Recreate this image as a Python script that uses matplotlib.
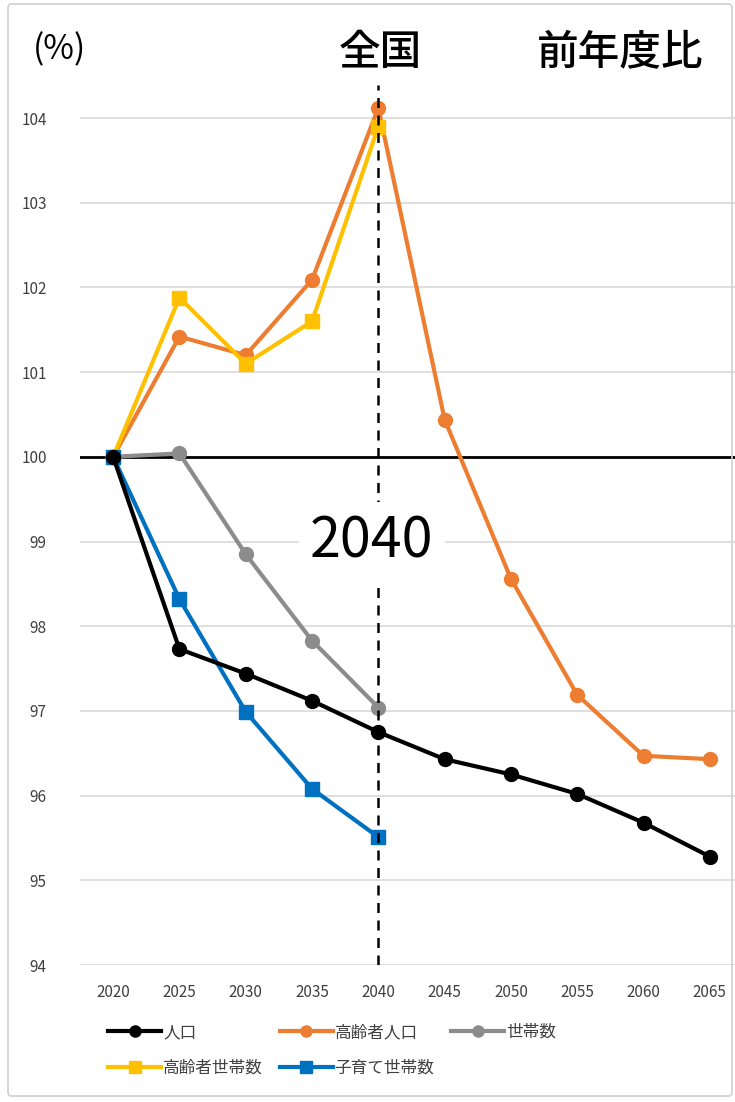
import numpy as np
import matplotlib.pyplot as plt
from matplotlib.patches import FancyBboxPatch

plt.rcParams['font.family'] = ['Noto Sans CJK JP', 'DejaVu Sans']

# -----------------------------
# Data
# -----------------------------
years = ['2020', '2025', '2030', '2035', '2040', '2045', '2050', '2055', '2060', '2065']
population = [100.0, 97.73, 97.44, 97.12, 96.75, 96.43, 96.25, 96.02, 95.68, 95.28]
elderly_pop = [100.0, 101.42, 101.2, 102.09, 104.12, 100.44, 98.56, 97.19, 96.47, 96.43]
households = [100.0, 100.04, 98.85, 97.83, 97.04]
elderly_hh = [100.0, 101.88, 101.1, 101.6, 103.9]
child_hh = [100.0, 98.32, 96.99, 96.08, 95.51]

yticks = [94, 95, 96, 97, 98, 99, 100, 101, 102, 103, 104]

# -----------------------------
# Figure
# -----------------------------
fig = plt.figure(figsize=(7.35, 11.02), dpi=100)
W, H = 735, 1102
ax = fig.add_axes([80 / W, 1 - 965 / H, (735 - 80) / W, (965 - 85) / H])

# outer frame
frame = FancyBboxPatch((8 / W, 6 / H), 724 / W, 1092 / H,
                       boxstyle="round,pad=0,rounding_size=0.004",
                       transform=fig.transFigure, fill=False,
                       edgecolor='#d0d0d0', linewidth=1.2)
fig.patches.append(frame)

x = np.arange(len(years))
lw = 3
ms = 10

l_pop, = ax.plot(x, population, color='black', lw=lw, marker='o', ms=ms, label='人口', zorder=5)
l_eld, = ax.plot(x, elderly_pop, color='#ED7D31', lw=lw, marker='o', ms=ms, label='高齢者人口', zorder=4)
l_hh, = ax.plot(x[:len(households)], households, color='#8C8C8C', lw=lw, marker='o', ms=ms, label='世帯数', zorder=4)
l_ehh, = ax.plot(x[:len(elderly_hh)], elderly_hh, color='#FFC000', lw=lw, marker='s', ms=ms, label='高齢者世帯数', zorder=4)
l_chh, = ax.plot(x[:len(child_hh)], child_hh, color='#0070C0', lw=lw, marker='s', ms=ms, label='子育て世帯数', zorder=4)

ax.set_xlim(-0.5, 9.38)
ax.set_ylim(94, 104.39)
ax.set_yticks(yticks)
ax.set_xticks(x)
ax.set_xticklabels(years)
ax.tick_params(axis='both', length=0, labelsize=11, colors='#404040')
ax.tick_params(axis='y', pad=24)
ax.tick_params(axis='x', pad=14)
ax.grid(axis='y', color='#d9d9d9', lw=1.2)
ax.set_axisbelow(True)
for s in ax.spines.values():
    s.set_visible(False)

# reference lines
ax.axhline(100, color='black', lw=2, zorder=3)
ax.axvline(4, color='black', lw=1.8, ls=(0, (4, 3)), zorder=6)

ax.text(3.9, 99.0, '2040', fontsize=40, ha='center', va='center', zorder=7,
        bbox=dict(facecolor='white', edgecolor='none', pad=8))

# titles
fig.text(60 / W, 1 - 50 / H, '(%)', fontsize=24, ha='center', va='center')
fig.text(380 / W, 1 - 52 / H, '全国', fontsize=30, fontweight='medium', ha='center', va='center')
fig.text(620 / W, 1 - 52 / H, '前年度比', fontsize=30, fontweight='medium', ha='center', va='center')

# legend (row-wise order)
handles = [l_pop, l_ehh, l_eld, l_chh, l_hh]
leg = ax.legend(handles=handles, labels=[h.get_label() for h in handles],
                loc='upper left', bbox_to_anchor=(0.02, -0.05), ncol=3,
                frameon=False, fontsize=12, handlelength=3.2, handletextpad=0.1,
                columnspacing=1.0, labelspacing=1.1, markerscale=0.8)
for t in leg.get_texts():
    t.set_color('#404040')

fig.savefig('out.png', dpi=100)
